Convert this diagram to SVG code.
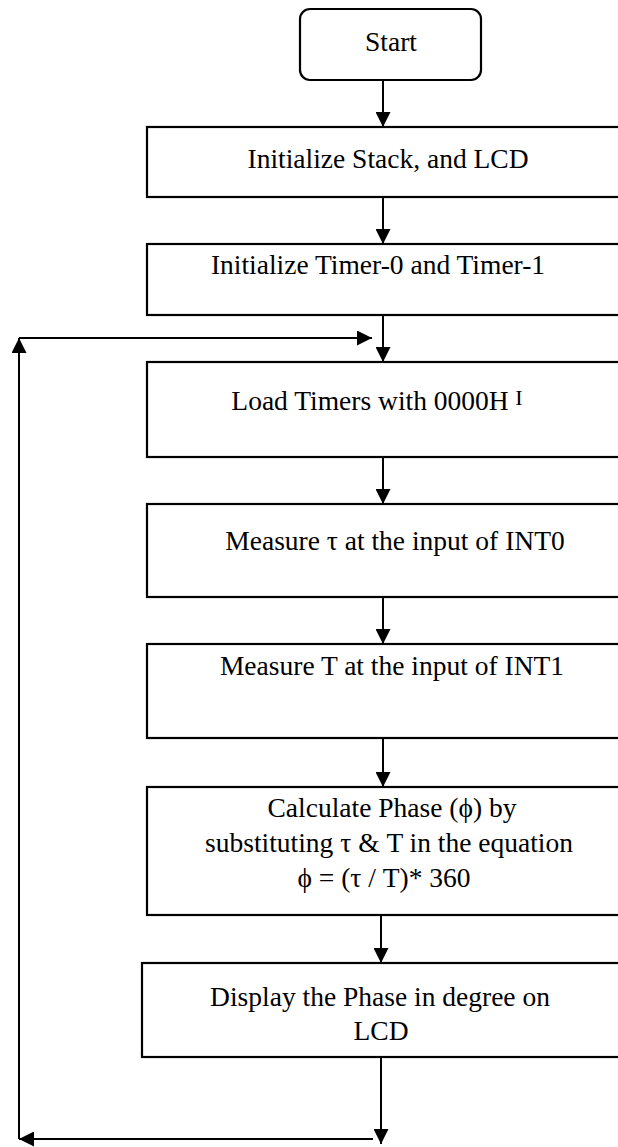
<svg xmlns="http://www.w3.org/2000/svg" width="618" height="1147" viewBox="0 0 618 1147">
<style>
.box{fill:#fff;stroke:#000;stroke-width:2.2}
.lbl{font-family:"Liberation Serif","Times New Roman",serif;font-size:27.5px;fill:#000;text-anchor:middle}
.con{fill:none;stroke:#000;stroke-width:2}
</style>
<defs>
<marker id="arr" viewBox="0 0 10 10" refX="10" refY="5" markerUnits="userSpaceOnUse" markerWidth="17" markerHeight="15" orient="auto">
<path d="M0,0 L10,5 L0,10 z" fill="#000"/>
</marker>
</defs>
<rect width="618" height="1147" fill="#fff"/>
<g id="start">
<rect class="box" x="300" y="9" width="181" height="71" rx="10"/>
<text class="lbl" x="391" y="51">Start</text>
</g>
<g id="b1">
<rect class="box" x="147" y="127" width="487" height="70"/>
<text class="lbl" x="388" y="168">Initialize Stack, and LCD</text>
</g>
<g id="b2">
<rect class="box" x="147" y="244" width="487" height="71"/>
<text class="lbl" x="378" y="274">Initialize Timer-0 and Timer-1</text>
</g>
<g id="b3">
<rect class="box" x="147" y="362" width="487" height="95"/>
<text class="lbl" x="370" y="410">Load Timers with 0000H</text>
<text class="lbl" x="519" y="405" style="font-size:22px">I</text>
</g>
<g id="b4">
<rect class="box" x="147" y="504" width="487" height="93"/>
<text class="lbl" x="395" y="550">Measure τ at the input of INT0</text>
</g>
<g id="b5">
<rect class="box" x="147" y="644" width="487" height="94"/>
<text class="lbl" x="392" y="675">Measure T at the input of INT1</text>
</g>
<g id="b6">
<rect class="box" x="147" y="787" width="487" height="128"/>
<text class="lbl" x="392" y="817">Calculate Phase (ϕ) by</text>
<text class="lbl" x="389" y="852">substituting τ &amp; T in the equation</text>
<text class="lbl" x="384" y="887">ϕ = (τ / T)* 360</text>
</g>
<g id="b7">
<rect class="box" x="142" y="963" width="492" height="94"/>
<text class="lbl" x="380" y="1006">Display the Phase in degree on</text>
<text class="lbl" x="381" y="1040">LCD</text>
</g>
<g id="connectors">
<path class="con" d="M383,80 V127" marker-end="url(#arr)"/>
<path class="con" d="M383,197 V244" marker-end="url(#arr)"/>
<path class="con" d="M383,315 V362" marker-end="url(#arr)"/>
<path class="con" d="M383,457 V504" marker-end="url(#arr)"/>
<path class="con" d="M383,597 V644" marker-end="url(#arr)"/>
<path class="con" d="M383,738 V787" marker-end="url(#arr)"/>
<path class="con" d="M381,915 V963" marker-end="url(#arr)"/>
<path class="con" d="M381,1057 V1144" marker-end="url(#arr)"/>
<path class="con" d="M373,1139 H19" marker-end="url(#arr)"/>
<path class="con" d="M19,1139 V338" marker-end="url(#arr)"/>
<path class="con" d="M19,338 H372" marker-end="url(#arr)"/>
</g>
</svg>
